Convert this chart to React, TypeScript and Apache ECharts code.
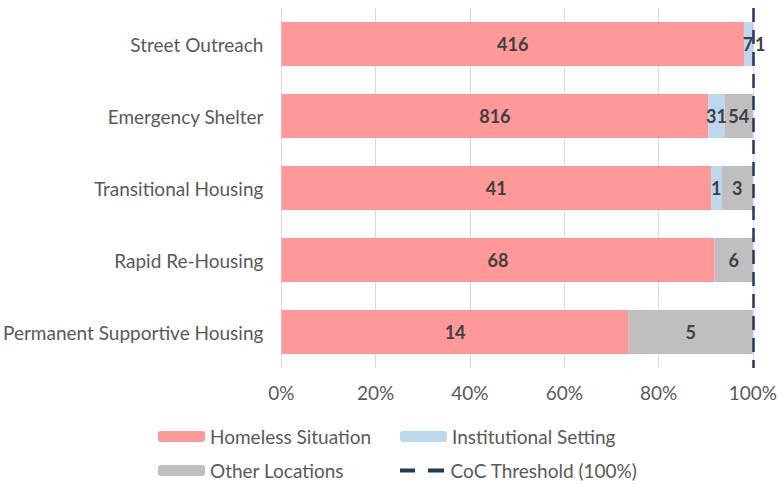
import React, { useEffect, useRef } from "react";
import * as echarts from "echarts";

const categories = [
  "Street Outreach",
  "Emergency Shelter",
  "Transitional Housing",
  "Rapid Re-Housing",
  "Permanent Supportive Housing",
];
const homeless = [416, 816, 41, 68, 14];
const institutional = [7, 31, 1, 0, 0];
const other = [1, 54, 3, 6, 5];
const xTicks = [0, 20, 40, 60, 80, 100];
const threshold = 100;

const FONT = "Lato";
const TXT = "#595959";

export default function App() {
  const ref = useRef<HTMLDivElement>(null);
  useEffect(() => {
    document.body.style.margin = "0";
    const chart = echarts.init(ref.current!, undefined, { renderer: "svg" });
    const totals = categories.map((_, i) => homeless[i] + institutional[i] + other[i]);
    const mk = (arr: number[], offsets?: Record<number, number[]>) =>
      arr.map((v, i) => {
        const item: any = { value: (v / totals[i]) * 100, count: v };
        if (offsets && offsets[i]) item.label = { offset: offsets[i] };
        return item;
      });
    const label = {
      show: true,
      position: "inside",
      color: "#404040",
      fontWeight: "bold",
      fontSize: 18,
      fontFamily: FONT,
      formatter: (p: any) => (p.data.count ? String(p.data.count) : ""),
    };
    const barCommon = { type: "bar", stack: "total", barWidth: 44, label };
    const legendBase = {
      orient: "horizontal",
      padding: 0,
      itemWidth: 47,
      itemHeight: 11,
      textStyle: { color: TXT, fontSize: 19, fontFamily: FONT },
    };
    chart.setOption({
      animation: false,
      grid: { left: 281, right: 26, top: 8, height: 360 },
      xAxis: {
        type: "value",
        min: 0,
        max: 100,
        interval: 20,
        axisLabel: {
          color: TXT,
          fontSize: 19,
          fontFamily: FONT,
          margin: 15,
          formatter: (v: number) => (xTicks.includes(v) ? v + "%" : ""),
        },
        axisLine: { show: false },
        axisTick: { show: false },
        splitLine: { lineStyle: { color: "#d9d9d9", width: 1 } },
      },
      yAxis: {
        type: "category",
        data: categories,
        inverse: true,
        axisLabel: { color: TXT, fontSize: 19, fontFamily: FONT, margin: 18 },
        axisLine: { show: false },
        axisTick: { show: false },
      },
      legend: [
        { ...legendBase, left: 158, top: 427, data: ["Homeless Situation"] },
        { ...legendBase, left: 400, top: 427, data: ["Institutional Setting"] },
        { ...legendBase, left: 158, top: 461, data: ["Other Locations"] },
        {
          ...legendBase,
          left: 400,
          top: 461,
          itemHeight: 4,
          data: [
            {
              name: "CoC Threshold (100%)",
              icon: "path://M0,0H15V4H0Z M28,0H44V4H28Z",
            },
          ],
        },
      ],
      series: [
        { ...barCommon, name: "Homeless Situation", itemStyle: { color: "#ff9999" }, data: mk(homeless) },
        { ...barCommon, name: "Institutional Setting", itemStyle: { color: "#bdd7ee" }, data: mk(institutional) },
        { ...barCommon, name: "Other Locations", itemStyle: { color: "#bfbfbf" }, data: mk(other, { 0: [8, 0] }) },
        {
          name: "CoC Threshold (100%)",
          type: "line",
          symbol: "none",
          data: [],
          lineStyle: { color: "#1f3864", width: 3 },
          itemStyle: { color: "#1f3864" },
          markLine: {
            symbol: "none",
            silent: true,
            label: { show: false },
            lineStyle: { color: "#1f3864", type: [14, 8], width: 2.5 },
            data: [{ xAxis: threshold }],
          },
        },
      ],
    });
    return () => chart.dispose();
  }, []);
  return <div ref={ref} style={{ width: 780, height: 487 }} />;
}
